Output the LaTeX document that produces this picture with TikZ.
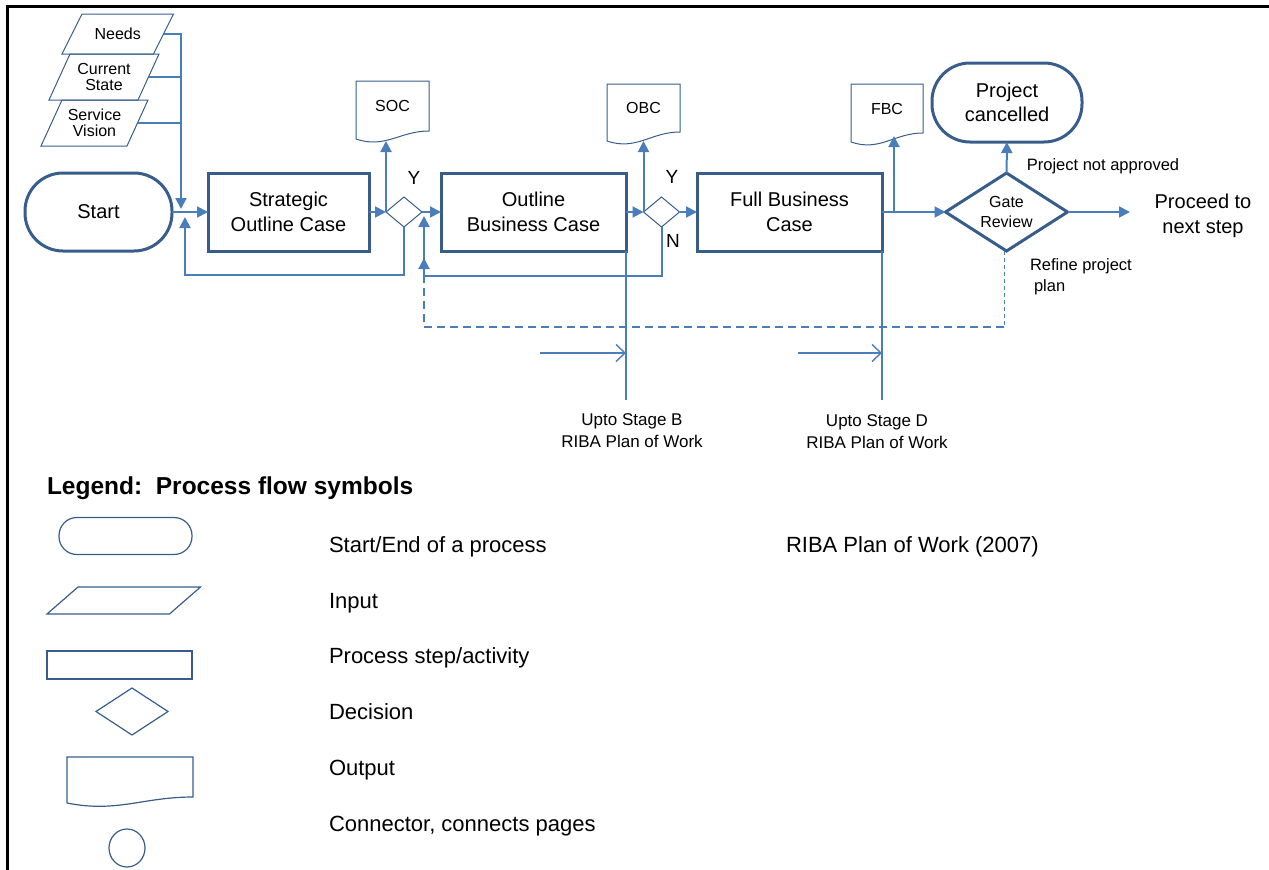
\documentclass[tikz,border=0pt]{standalone}
\usepackage{fontspec}
\setmainfont{Liberation Sans}
\usetikzlibrary{arrows.meta,shapes.geometric,calc}

\definecolor{shapeblue}{RGB}{56,93,138}
\definecolor{linkblue}{RGB}{74,126,187}

% document symbol: box with a wavy lower edge (node, drop of the left corner, style)
\newcommand{\docoutline}[3]{%
  \draw[#3] ([yshift=-#2]#1.south west) -- (#1.north west) -- (#1.north east) -- (#1.south east)
    .. controls ($(#1.south west)!0.6!(#1.south east)$) and ($(#1.south west)!0.4!(#1.south east)+(0,-#2-10pt)$)
    .. ([yshift=-#2]#1.south west);}
% input symbol: parallelogram around a node (node, half slant, style)
\newcommand{\paraoutline}[3]{%
  \draw[#3] ([xshift=#2]#1.north west) -- ([xshift=#2]#1.north east)
    -- ([xshift=-#2]#1.south east) -- ([xshift=-#2]#1.south west) -- cycle;}

\tikzset{
  every node/.style={inner sep=0pt, outer sep=0pt},
  thinshape/.style={draw=shapeblue, line width=1pt},
  legline/.style={draw=shapeblue, line width=1.2pt},
  term/.style={draw=shapeblue, line width=3pt, rounded corners=38pt, align=center,
    font=\fontsize{20}{24}\selectfont},
  procbox/.style={draw=shapeblue, line width=3pt, minimum height=78pt, align=center,
    font=\fontsize{20}{25}\selectfont},
  smalldec/.style={diamond, draw=shapeblue, line width=1pt, minimum width=36pt, minimum height=30pt},
  gatedec/.style={diamond, shape aspect=1.6, draw=shapeblue, line width=3pt, minimum width=122pt,
    minimum height=78pt, align=center, font=\fontsize{16}{20}\selectfont},
  innode/.style={align=center, font=\fontsize{16}{16}\selectfont},
  docnode/.style={font=\fontsize{16}{19}\selectfont},
  bigtext/.style={align=center, font=\fontsize{20}{25}\selectfont},
  yn/.style={font=\fontsize{19}{22}\selectfont},
  smalltext/.style={font=\fontsize{16.5}{21}\selectfont},
  stagetext/.style={align=center, font=\fontsize{17}{22}\selectfont},
  legtext/.style={anchor=base west, font=\fontsize{22}{26}\selectfont},
  conn/.style={draw=linkblue, line width=2pt},
  tip/.style={-{Triangle[length=11pt,width=11pt]}},
  opentip/.style={-{Straight Barb[length=9pt,width=17pt]}},
  stageline/.style={draw=linkblue, line width=1.4pt},
}

\begin{document}
\begin{tikzpicture}[x=1pt,y=-1pt]
\useasboundingbox (0,0) rectangle (1269,870);
\draw[line width=3pt] (7,870) -- (7,6) -- (1269,6);

% inputs
\node[innode, minimum width=91.5pt, minimum height=40pt] (needs) at (117.75,34) {Needs};
\node[innode, minimum width=89pt, minimum height=46pt] (state) at (104,77) {Current\\State};
\node[innode, minimum width=86pt, minimum height=46pt] (vision) at (94.5,123) {Service\\Vision};
\paraoutline{needs}{10pt}{thinshape}
\paraoutline{state}{10.5pt}{thinshape}
\paraoutline{vision}{10.5pt}{thinshape}

% main flow
\node[term, minimum width=147pt, minimum height=78pt] (start) at (98.5,212) {Start};
\node[procbox, minimum width=161pt] (soc) at (288.5,212) {Strategic\\Outline Case};
\node[smalldec] (d1) at (404,212) {};
\node[procbox, minimum width=185pt] (obc) at (533.5,212) {Outline\\Business Case};
\node[smalldec] (d2) at (661.5,212) {};
\node[procbox, minimum width=185pt] (fbc) at (789.5,212) {Full Business\\Case};
\node[gatedec] (gate) at (1006.5,212) {Gate\\Review};
\node[term, minimum width=150pt, minimum height=79pt] (cancel) at (1007,102.5) {Project\\cancelled};
\node[bigtext] (proceed) at (1203,216) {Proceed to\\next step};

% outputs
\node[docnode, minimum width=73pt, minimum height=50pt] (socdoc) at (392.5,106) {SOC};
\node[docnode, minimum width=73pt, minimum height=48pt] (obcdoc) at (643.5,108) {OBC};
\node[docnode, minimum width=72pt, minimum height=49pt] (fbcdoc) at (887,108.5) {FBC};
\docoutline{socdoc}{8pt}{thinshape}
\docoutline{obcdoc}{9pt}{thinshape}
\docoutline{fbcdoc}{9pt}{thinshape}

% labels
\node[yn] (y1) at (414,178) {Y};
\node[yn] (y2) at (672,177) {Y};
\node[yn] (n2) at (673,241) {N};
\node[smalltext] (notok) at (1103,166) {Project not approved};
\node[smalltext, anchor=west, align=left] (refine) at (1030,277) {Refine project\\\hspace{4pt}plan};

% junctions
\coordinate (jin) at (181,209);
\coordinate (jback) at (185,217);
\coordinate (loopA) at (185,275);
\coordinate (jN) at (424,216);
\coordinate (loopB) at (424,276);
\coordinate (jR) at (424,258);
\coordinate (refineA) at (1004,327);
\coordinate (refineB) at (424,327);
\coordinate (fbcsplit) at (894,212);
\coordinate (proceedtip) at (1130,212);
\coordinate (stageB) at ($(obc.south east)+(0,-149pt)$);
\coordinate (stageD) at ($(fbc.south east)+(0,-149pt)$);
\coordinate (markB) at (540,353);
\coordinate (markD) at (798,353);

% connectors
\draw[conn,tip] (needs.east) -| (jin);
\draw[conn,line width=1.5pt] (state.east) -- (state.east -| jin);
\draw[conn,line width=1.5pt] (vision.east) -- (vision.east -| jin);
\draw[conn,tip] (start) -- (soc);
\draw[conn,tip] (d1.south) |- (loopA) -- (jback);
\draw[conn,tip] (soc) -- (d1);
\draw[conn,tip] (d1) -- (obc);
\draw[conn,tip] (d1.west) -- ($(d1.west |- socdoc.south)+(0,-10pt)$);
\draw[conn,tip] (obc) -- (d2);
\draw[conn,tip] (d2) -- (fbc);
\draw[conn,tip] (d2.west) -- ($(d2.west |- obcdoc.south)+(0,-9pt)$);
\draw[conn,tip] (d2.south) |- (loopB) -- (jN);
\draw[conn,tip] (fbc) -- (gate);
\draw[conn,tip] (fbcsplit) -- ($(fbcsplit |- fbcdoc.south)+(0,-3pt)$);
\draw[conn,tip] (gate) -- (cancel);
\draw[conn,tip] (gate) -- (proceedtip);
\draw[conn,line width=1pt,dash pattern=on 4pt off 3pt] (gate.south -| refineA) -- (refineA);
\draw[conn,tip,dash pattern=on 8pt off 5pt] (refineA) -- (refineB) -- (jR);

% RIBA stages
\draw[stageline] (obc.south east) -- (stageB);
\draw[stageline] (fbc.south east) -- (stageD);
\draw[stageline,opentip] (markB) -- (markB -| stageB);
\draw[stageline,opentip] (markD) -- (markD -| stageD);
\node[stagetext] (labB) at (632,431) {Upto Stage B\\RIBA Plan of Work};
\node[stagetext] (labD) at (877,432) {Upto Stage D\\RIBA Plan of Work};

% legend
\node[anchor=west, font=\bfseries\fontsize{24.5}{28}\selectfont] (legtitle) at (47,488) {Legend:\ \ Process flow symbols};
\node[legline, rounded corners=18pt, minimum width=133pt, minimum height=37pt] (lterm) at (125.5,536) {};
\node[minimum width=122.5pt, minimum height=27pt] (lin) at (123.75,600.5) {};
\paraoutline{lin}{15.5pt}{legline}
\node[legline, minimum width=145pt, minimum height=28pt] (lproc) at (119.5,665) {};
\node[legline, diamond, minimum width=72pt, minimum height=47pt] (ldec) at (132,711.5) {};
\node[minimum width=126pt, minimum height=40pt] (lout) at (130,777) {};
\docoutline{lout}{6pt}{legline}
\node[legline, ellipse, minimum width=36pt, minimum height=38pt] (lcon) at (127,848) {};

\node[legtext] (t1) at (329,552) {Start/End of a process};
\node[legtext] (t2) at (329,608) {Input};
\node[legtext] (t3) at (329,663) {Process step/activity};
\node[legtext] (t4) at (329,719) {Decision};
\node[legtext] (t5) at (329,775) {Output};
\node[legtext] (t6) at (329,831) {Connector, connects pages};
\node[legtext] (t7) at (786,552) {RIBA Plan of Work (2007)};
\end{tikzpicture}
\end{document}
